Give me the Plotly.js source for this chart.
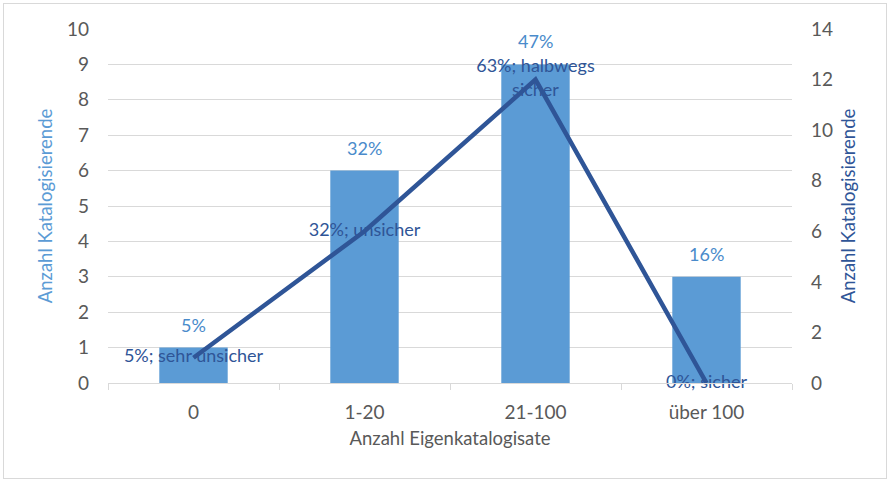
<!DOCTYPE html>
<html>
<head>
<meta charset="utf-8">
<script src="https://cdn.plot.ly/plotly-3.0.1.min.js"></script>
<style>
  html, body { margin: 0; padding: 0; background: #fff; }
  #frame { position: absolute; left: 3px; top: 3px; width: 882px; height: 474px; border: 1px solid #D9D9D9; }
  #chart { position: absolute; left: 0; top: 0; width: 890px; height: 482px; }
</style>
</head>
<body>
<div id="frame"></div>
<div id="chart"></div>
<script>
// Data
const categories = ["0", "1-20", "21-100", "über 100"];
const barValues = [1, 6, 9, 3];                 // Anzahl Katalogisierende (left axis)
const barLabels = ["5%", "32%", "47%", "16%"];
const lineValues = [1, 6, 12, 0];               // Anzahl Katalogisierende (right axis)
const lineLabels = ["5%; sehr unsicher", "32%; unsicher", "63%; halbwegs<br>sicher", "0%; sicher"];
const leftTicks = [0, 1, 2, 3, 4, 5, 6, 7, 8, 9, 10];
const rightTicks = [0, 2, 4, 6, 8, 10, 12, 14];

const FONT = "Lato, 'Noto Sans', sans-serif";
const barColor = "#5B9BD5";
const lineColor = "#2F5597";
const tickColor = "#595959";

const traces = [
  {
    type: "bar",
    x: categories,
    y: barValues,
    marker: { color: barColor },
    hoverinfo: "none",
    yaxis: "y"
  },
  {
    type: "scatter",
    mode: "lines+text",
    x: categories,
    y: lineValues,
    yaxis: "y2",
    line: { color: lineColor, width: 4.5 },
    text: lineLabels,
    textposition: "middle center",
    textfont: { family: FONT, size: 18, color: lineColor },
    hoverinfo: "none",
    cliponaxis: false
  }
];

const annotations = categories.map((c, i) => ({
  x: c, y: barValues[i], xref: "x", yref: "y",
  text: barLabels[i], showarrow: false,
  yanchor: "bottom", yshift: 10,
  font: { family: FONT, size: 18, color: "#4A8BCB" }
}));

const layout = {
  width: 890, height: 482,
  margin: { l: 108, r: 98, t: 29, b: 99 },
  paper_bgcolor: "rgba(0,0,0,0)",
  plot_bgcolor: "rgba(0,0,0,0)",
  showlegend: false,
  bargap: 0.6,
  font: { family: FONT, size: 18, color: tickColor },
  xaxis: {
    type: "category",
    showline: true, linecolor: "#D9D9D9", linewidth: 1,
    ticks: "outside", tickson: "boundaries", ticklen: 6, tickcolor: "#D9D9D9",
    tickfont: { family: FONT, size: 19, color: tickColor },
    ticklabelstandoff: 12,
    title: { text: "Anzahl Eigenkatalogisate", font: { family: FONT, size: 18.5, color: tickColor }, standoff: 10 },
    showgrid: false, zeroline: false
  },
  yaxis: {
    range: [0, 10], tickvals: leftTicks,
    showgrid: true, gridcolor: "#D9D9D9", gridwidth: 1,
    zeroline: false, showline: false, ticks: "",
    tickfont: { family: FONT, size: 19, color: tickColor },
    ticklabelstandoff: 18,
    title: { text: "Anzahl Katalogisierende", font: { family: FONT, size: 18.5, color: barColor }, standoff: 9 }
  },
  yaxis2: {
    overlaying: "y", side: "right",
    range: [0, 14], tickvals: rightTicks,
    showgrid: false, zeroline: false, showline: false, ticks: "",
    tickfont: { family: FONT, size: 19, color: tickColor },
    ticklabelstandoff: 18,
    title: { text: "Anzahl Katalogisierende", font: { family: FONT, size: 18.5, color: lineColor }, standoff: 10 }
  },
  annotations: annotations
};

Plotly.newPlot("chart", traces, layout, { staticPlot: true, displayModeBar: false });
</script>
</body>
</html>
